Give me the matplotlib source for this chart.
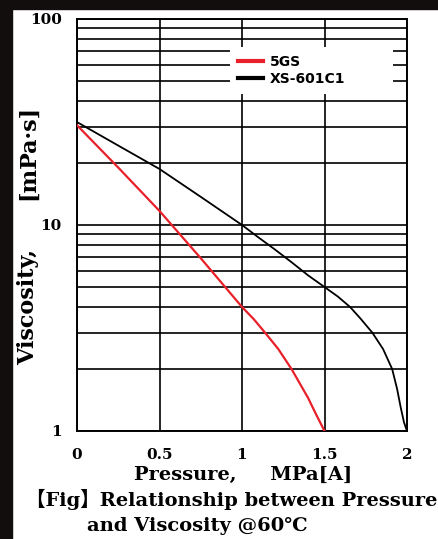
"""Pressure vs viscosity chart (5GS / XS-601C1) at 60 degC."""

import matplotlib
matplotlib.use("Agg")
import matplotlib.pyplot as plt  # noqa: E402
from matplotlib.patches import Rectangle  # noqa: E402

W, H = 438, 539

# values (pressure MPa[A], viscosity mPa*s)
p_5gs = [0.0, 0.25, 0.5, 0.75, 1.0, 1.07, 1.14, 1.22, 1.30, 1.40, 1.45, 1.5]
v_5gs = [30.5, 19.0, 11.7, 6.9, 4.0, 3.5, 3.0, 2.5, 2.0, 1.45, 1.2, 1.0]

p_xs = [0.0, 0.25, 0.5, 0.75, 1.0, 1.1, 1.2, 1.3, 1.4, 1.5, 1.58, 1.655,
        1.72, 1.79, 1.855, 1.91, 1.94, 1.962, 1.982, 2.0]
v_xs = [31.6, 24.3, 18.7, 13.7, 10.0, 8.7, 7.6, 6.6, 5.7, 5.0, 4.5, 4.0,
        3.5, 3.0, 2.5, 2.0, 1.6, 1.3, 1.1, 1.0]

x_ticks = [0, 0.5, 1, 1.5, 2]
x_labels = ["0", "0.5", "1", "1.5", "2"]
y_ticks = [1, 10, 100]
y_labels = ["1", "10", "100"]

SERIF = ["DejaVu Serif", "Noto Sans CJK JP"]
DARK = "#110e0d"


def fx(px):
    return px / W


def fy(py):
    return 1 - py / H


fig = plt.figure(figsize=(W / 100, H / 100), dpi=100, facecolor="white")
fig.patches.append(Rectangle((0, fy(9)), 1, 1, transform=fig.transFigure,
                             color=DARK, zorder=0))
fig.patches.append(Rectangle((0, 0), fx(12), 1, transform=fig.transFigure,
                             color=DARK, zorder=0))

ax = fig.add_axes([fx(77), fy(431), fx(407) - fx(77), fy(19) - fy(431)])
ax.set_yscale("log")
ax.set_xlim(0, 2)
ax.set_ylim(1, 100)

ax.plot(p_5gs, v_5gs, color="#e8202a", lw=1.6, label="5GS", zorder=3)
ax.plot(p_xs, v_xs, color="black", lw=1.3, label="XS-601C1", zorder=3)

ax.set_xticks(x_ticks)
ax.set_xticklabels(x_labels)
ax.set_yticks(y_ticks)
ax.set_yticklabels(y_labels)
ax.yaxis.set_minor_formatter(matplotlib.ticker.NullFormatter())
ax.tick_params(which="both", length=0)
ax.tick_params(axis="x", pad=12)
ax.tick_params(axis="y", pad=11)
for lab in ax.get_xticklabels() + ax.get_yticklabels():
    lab.set_family(SERIF)
    lab.set_fontweight("bold")
    lab.set_fontsize(11)

ax.grid(which="both", axis="y", color="black", lw=1.2)
ax.grid(which="major", axis="x", color="black", lw=1.2)
ax.set_axisbelow(True)
for s in ax.spines.values():
    s.set_linewidth(1.4)

leg = ax.legend(loc="upper left", bbox_to_anchor=(0.4636, 0.932, 0.494, 0.0),
                mode="expand", borderaxespad=0, frameon=True, fancybox=False,
                handlelength=1.8, handletextpad=0.5, labelspacing=0.25,
                borderpad=0.55, prop={"family": "DejaVu Sans", "weight": "bold",
                                      "size": 10})
leg.get_frame().set_edgecolor("none")
leg.get_frame().set_facecolor("white")
leg.get_frame().set_alpha(1)
for h in leg.legend_handles:
    h.set_linewidth(3)

# axis titles
fig.text(fx(28), fy(307), "Viscosity,", rotation=90, ha="center", va="center",
         family=SERIF, weight="bold", fontsize=16)
fig.text(fx(28), fy(152), "[mPa\u00b7s]", rotation=90, ha="center", va="center",
         family=SERIF, weight="bold", fontsize=16)
fig.text(fx(243), fy(475), "Pressure,     MPa[A]", ha="center", va="center",
         family=SERIF, weight="bold", fontsize=14)

# caption
fig.text(fx(26), fy(499), "\u3010Fig\u3011Relationship between Pressure",
         ha="left", va="center", family=SERIF, weight="bold", fontsize=14)
fig.text(fx(87), fy(526), "and Viscosity @60\u2103", ha="left", va="center",
         family=SERIF, weight="bold", fontsize=14)

fig.savefig("out.png", dpi=100, facecolor=fig.get_facecolor())
